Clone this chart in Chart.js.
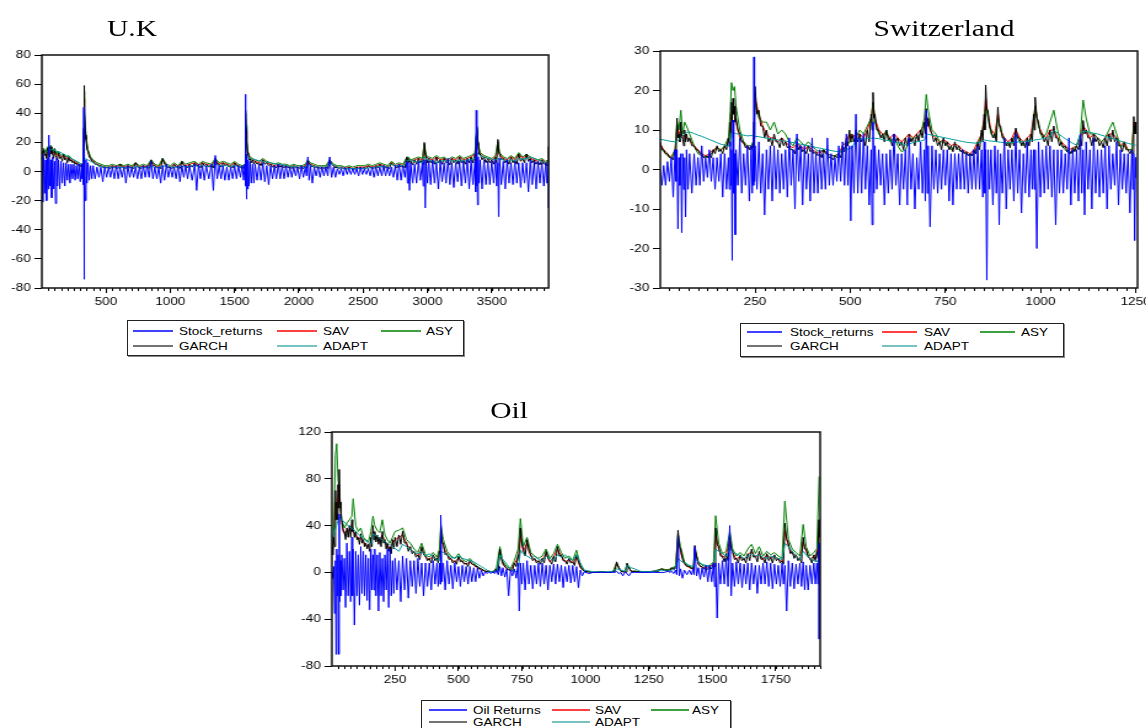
<!DOCTYPE html>
<html>
<head>
<meta charset="utf-8">
<title>Volatility models</title>
<script src="https://cdn.jsdelivr.net/npm/chart.js@4.4.1/dist/chart.umd.min.js"></script>
<style>
html, body { margin: 0; padding: 0; background: #fff; overflow: hidden; }
body { width: 1147px; height: 728px; position: relative; font-family: "Liberation Sans", Arial, sans-serif; }
.panel { position: absolute; top: 0; height: 728px; transform-origin: 0 0; }
.panel canvas { position: absolute; left: 0; }
.title { position: absolute; font-family: "Liberation Serif", "Times New Roman", serif; font-size: 24px; line-height: 24px; color: #000; white-space: nowrap; transform: translateX(-50%) scaleX(1.23); }
.legend { position: absolute; overflow: visible; }
</style>
</head>
<body>
<script>
/* the original picture is stretched sideways, so text and canvases are too */
const STRETCH = 1.23;

const BLUE = "#0000ff", RED = "#ff0000", GREEN = "#008000", BLACK = "#000000", TEAL = "#009999";

/* ================= U.K ================= */
// returns are read as the top and bottom of the dense band at each day
const ukDays = [
    1, 15, 30, 45, 55, 70, 85, 100, 115, 130,
    150, 170, 190, 210, 230, 250, 270, 290, 310, 322,
    327, 330, 335, 345, 360, 380, 400, 430, 460, 490,
    520, 550, 580, 610, 640, 670, 700, 730, 760, 790,
    820, 850, 880, 910, 940, 970, 1000, 1030, 1060, 1090,
    1120, 1150, 1190, 1220, 1250, 1280, 1320, 1350, 1380, 1410,
    1440, 1470, 1500, 1530, 1560, 1580, 1586, 1590, 1595, 1605,
    1620, 1640, 1660, 1690, 1720, 1750, 1780, 1810, 1840, 1870,
    1900, 1930, 1960, 1990, 2020, 2050, 2070, 2090, 2120, 2150,
    2180, 2210, 2240, 2270, 2300, 2330, 2360, 2390, 2420, 2450,
    2480, 2510, 2540, 2570, 2600, 2630, 2660, 2690, 2720, 2750,
    2780, 2810, 2840, 2850, 2870, 2900, 2930, 2960, 2975, 2990,
    3010, 3040, 3070, 3100, 3130, 3160, 3190, 3220, 3250, 3280,
    3310, 3340, 3370, 3380, 3386, 3395, 3410, 3440, 3470, 3500,
    3530, 3548, 3560, 3590, 3620, 3650, 3680, 3710, 3740, 3770,
    3800, 3830, 3860, 3890, 3920, 3935, 3940
];
const ukRetUp = [
    12, 10, 8, 9, 25, 8, 10, 7, 9, 8,
    7, 6, 6, 5, 5, 5, 4, 5, 5, 4,
    44, 10, 8, 8, 6, 4, 4, 3, 3, 3,
    3, 3, 4, 3, 3, 4, 3, 3, 3, 4,
    4, 7, 3, 3, 4, 5, 3, 3, 4, 4,
    4, 4, 5, 5, 4, 4, 5, 11, 4, 4,
    3, 3, 4, 4, 4, 5, 53, 12, 12, 8,
    7, 5, 5, 5, 6, 4, 4, 4, 5, 4,
    4, 3, 3, 3, 4, 3, 10, 4, 3, 3,
    3, 3, 10, 3, 2, 2, 3, 2, 2, 2,
    3, 2, 2, 3, 3, 3, 4, 3, 3, 4,
    5, 4, 7, 6, 6, 5, 7, 6, 8, 8,
    7, 8, 6, 7, 6, 9, 6, 6, 7, 7,
    8, 8, 7, 42, 10, 10, 8, 8, 7, 7,
    8, 6, 9, 7, 8, 6, 7, 6, 6, 6,
    8, 7, 7, 6, 6, 5, 5
];
const ukRetDown = [
    -21, -15, -20, -12, -10, -18, -12, -22, -10, -12,
    -8, -10, -6, -8, -5, -6, -5, -7, -5, -9,
    -10, -74, -20, -8, -6, -5, -5, -4, -7, -4,
    -4, -5, -5, -4, -8, -4, -4, -5, -5, -4,
    -4, -5, -5, -8, -6, -4, -4, -5, -7, -4,
    -5, -6, -13, -5, -6, -5, -13, -5, -5, -6,
    -6, -5, -5, -4, -6, -5, -10, -19, -12, -10,
    -8, -8, -6, -6, -7, -9, -5, -5, -5, -5,
    -4, -4, -3, -5, -4, -3, -6, -8, -3, -4,
    -3, -3, -4, -4, -2, -3, -2, -2, -2, -3,
    -2, -2, -3, -4, -3, -3, -3, -3, -4, -6,
    -6, -4, -8, -13, -8, -8, -6, -10, -25, -8,
    -9, -8, -12, -7, -8, -9, -11, -7, -10, -8,
    -12, -9, -14, -10, -23, -8, -12, -9, -9, -8,
    -10, -31, -9, -12, -8, -9, -8, -11, -8, -14,
    -9, -12, -8, -10, -8, -9, -25
];
const ukSav = [
    13, 14, 12, 15, 13, 16, 12, 14, 11, 12,
    10, 11, 9, 10, 8, 7, 6, 5, 4, 5,
    25, 50, 38, 22, 14, 9, 7, 5, 4, 3,
    3, 4, 3, 5, 3, 4, 3, 6, 3, 4,
    3, 7, 4, 3, 8, 4, 3, 5, 3, 6,
    4, 5, 6, 4, 6, 5, 4, 8, 5, 6,
    5, 4, 6, 4, 3, 4, 36, 28, 19, 12,
    9, 8, 7, 6, 8, 6, 5, 4, 5, 4,
    4, 3, 4, 3, 3, 4, 7, 5, 4, 3,
    3, 3, 7, 4, 3, 3, 2, 3, 2, 3,
    3, 3, 4, 3, 4, 5, 4, 3, 6, 4,
    5, 4, 9, 9, 7, 8, 9, 8, 18, 10,
    9, 8, 10, 8, 9, 7, 9, 8, 10, 8,
    9, 10, 12, 22, 28, 18, 12, 10, 9, 8,
    10, 20, 12, 9, 8, 10, 8, 12, 9, 11,
    9, 8, 7, 8, 6, 7, 15
];
const ukAsy = [
    15, 16, 13, 17, 14, 18, 13, 16, 12, 14,
    11, 12, 10, 11, 9, 8, 7, 6, 5, 6,
    28, 55, 42, 24, 15, 10, 8, 6, 5, 4,
    4, 5, 4, 5, 4, 5, 4, 6, 4, 5,
    4, 8, 5, 4, 9, 5, 4, 6, 4, 7,
    5, 6, 7, 5, 7, 6, 5, 9, 6, 7,
    6, 5, 7, 5, 4, 5, 40, 32, 22, 13,
    10, 9, 8, 7, 9, 7, 6, 5, 6, 5,
    5, 4, 5, 4, 4, 5, 8, 6, 5, 4,
    4, 4, 8, 5, 4, 4, 3, 4, 3, 4,
    4, 4, 5, 4, 5, 6, 5, 4, 7, 5,
    6, 5, 10, 10, 8, 9, 10, 9, 19, 11,
    10, 9, 11, 9, 10, 8, 10, 9, 11, 9,
    10, 11, 13, 26, 30, 19, 13, 11, 10, 9,
    11, 21, 13, 10, 9, 11, 9, 13, 10, 12,
    10, 9, 8, 9, 7, 8, 16
];
const ukGarchHigh = [
    14, 15, 12, 16, 13, 17, 12, 15, 11, 13,
    10, 12, 9, 10, 8, 7, 6, 5, 4, 5,
    30, 59, 40, 22, 14, 9, 7, 5, 4, 3,
    3, 4, 3, 5, 3, 4, 3, 6, 3, 4,
    3, 8, 4, 3, 9, 4, 3, 5, 3, 7,
    4, 5, 6, 4, 6, 5, 4, 9, 5, 6,
    5, 4, 6, 4, 3, 4, 42, 30, 20, 12,
    9, 8, 7, 6, 8, 6, 5, 4, 5, 4,
    4, 3, 4, 3, 3, 4, 8, 5, 4, 3,
    3, 3, 8, 4, 3, 3, 2, 3, 2, 3,
    3, 3, 4, 3, 4, 5, 4, 3, 6, 4,
    5, 4, 10, 9, 7, 8, 9, 8, 20, 10,
    9, 8, 10, 8, 9, 7, 9, 8, 10, 8,
    9, 10, 12, 24, 31, 18, 12, 10, 9, 8,
    10, 22, 12, 9, 8, 10, 8, 12, 9, 12,
    9, 8, 7, 8, 6, 7, 17
];
const ukGarchLow = [
    10, 11, 9, 12, 10, 12, 9, 11, 8, 9,
    7, 8, 6, 7, 6, 5, 4, 3.5, 3, 3.5,
    20, 40, 25, 15, 10, 7, 5, 3.5, 3, 2.5,
    2, 2.5, 2, 3, 2, 2.5, 2, 3, 2, 2.5,
    2, 4, 2.5, 2, 5, 2.5, 2, 3, 2, 4,
    2.5, 3, 4, 2.5, 4, 3, 2.5, 5, 3, 4,
    3, 2.5, 4, 2.5, 2, 2.5, 25, 20, 13, 8,
    6, 5, 5, 4, 5, 4, 3, 2.5, 3, 2.5,
    2.5, 2, 2.5, 2, 2, 2.5, 5, 3, 2.5, 2,
    2, 2, 5, 2.5, 2, 2, 1.5, 2, 1.5, 2,
    2, 2, 2.5, 2, 2.5, 3, 2.5, 2, 4, 2.5,
    3, 2.5, 6, 6, 4.5, 5, 6, 5, 12, 6,
    6, 5, 6, 5, 6, 4.5, 6, 5, 6, 5,
    6, 6, 7, 15, 20, 12, 8, 6, 6, 5,
    6, 14, 8, 6, 5, 6, 5, 7, 6, 7,
    6, 5, 4.5, 5, 4, 4.5, 10
];
const ukAdapt = [
    11, 12, 13, 14, 14.5, 15, 15, 14.5, 14, 13.5,
    13, 12, 11, 10, 9, 8, 7, 6, 5, 4,
    4, 5, 9, 8.5, 8, 7, 6, 4.5, 3.5, 3,
    3, 3, 2.5, 3, 2.5, 3, 3, 3.5, 3, 2.5,
    3, 3.5, 3, 3, 4, 3.5, 3, 3, 3, 3.5,
    3, 3.5, 4, 3.5, 4, 3.5, 4, 5, 4, 4,
    4, 3.5, 4, 3.5, 3, 3, 4, 6, 10, 9.5,
    9, 8.5, 8, 7.5, 7, 6.5, 6, 5.5, 5, 4.5,
    4, 3.5, 3.5, 3, 3, 3, 5, 4, 3.5, 3,
    3, 3, 6, 4.5, 3, 2.5, 2, 2, 2, 2,
    2, 2, 2.5, 2.5, 3, 3.5, 3.5, 3, 5, 4,
    4, 4, 7, 8, 7.5, 7, 6.5, 6, 10, 9,
    8, 7, 6, 7, 7.5, 7, 7.5, 7, 8, 7.5,
    8, 8, 9, 10, 13, 12, 11, 10, 9, 8.5,
    8, 9, 8.5, 8, 7.5, 8, 7.5, 9, 8.5, 9,
    10, 9, 8, 7, 6, 5.5, 5
];
const ukTicks = [500, 1000, 1500, 2000, 2500, 3000, 3500];

/* ================= Switzerland ================= */
const chDays = [
    1, 10, 20, 30, 40, 45, 50, 55, 60, 65,
    70, 78, 90, 100, 110, 120, 130, 140, 150, 160,
    170, 180, 185, 188, 192, 196, 200, 210, 220, 230,
    240, 245, 247, 250, 260, 270, 280, 290, 300, 310,
    320, 330, 340, 350, 360, 370, 380, 390, 400, 410,
    420, 430, 440, 450, 460, 470, 480, 490, 498, 505,
    515, 525, 535, 545, 555, 560, 565, 575, 585, 595,
    605, 615, 625, 635, 645, 655, 665, 675, 685, 695,
    700, 705, 715, 725, 735, 745, 755, 765, 775, 785,
    795, 805, 815, 825, 835, 845, 852, 856, 862, 870,
    880, 888, 895, 905, 915, 925, 935, 945, 955, 965,
    975, 982, 986, 995, 1005, 1015, 1025, 1035, 1045, 1055,
    1065, 1075, 1085, 1095, 1105, 1112, 1120, 1130, 1140, 1150,
    1160, 1170, 1180, 1190, 1200, 1210, 1220, 1230, 1240, 1245,
    1250
];
const chRetUp = [
    0, 1, 2, 3, 5, 5, 3, 4, 4, 3,
    5, 4, 4, 3, 6, 3, 5, 3, 3, 4,
    4, 3, 7, 5, 12.5, 4, 5, 8, 4, 6,
    6, 5, 28.5, 6, 7, 4, 5, 6, 6, 5,
    4, 5, 8, 5, 9, 6, 6, 4, 8, 4,
    5, 4, 8, 4, 3, 6, 7, 9, 6, 6,
    14, 8, 9, 6, 5, 12, 6, 5, 4, 4,
    5, 9, 4, 4, 5, 8, 4, 3, 7, 5,
    15, 6, 6, 5, 4, 5, 5, 4, 4, 4,
    5, 4, 4, 5, 6, 5, 7, 5, 5, 5,
    6, 5, 4, 8, 5, 5, 9, 5, 4, 7,
    5, 5, 5, 7, 5, 6, 6, 5, 5, 5,
    4, 8, 5, 5, 9, 5, 7, 5, 8, 5,
    5, 6, 6, 4, 7, 5, 4, 4, 5, 4,
    3
];
const chRetDown = [
    -4, -4, -3, -7, -3, -15, -4, -16, -5, -12,
    -5, -6, -4, -4, -3, -2, -3, -5, -3, -7,
    -5, -5, -4, -23, -6, -16.5, -4, -6, -4, -8,
    -6, -4, -3, -5, -6, -11.5, -5, -8, -5, -6,
    -5, -7, -4, -10, -3, -9, -5, -8, -6, -6,
    -5, -5, -4, -4, -3, -3, -4, -4, -13, -6,
    -6, -6, -5, -9, -14, -6, -5, -4, -9, -6,
    -5, -4, -9, -5, -9, -5, -10, -5, -6, -8,
    -6, -14.5, -5, -6, -5, -4, -8, -9, -5, -5,
    -5, -6, -5, -5, -5, -7, -6, -28, -5, -9,
    -6, -14, -6, -10, -5, -8, -6, -11, -6, -7,
    -5, -5, -20, -7, -6, -5, -7, -14, -6, -6,
    -5, -9, -6, -8, -6, -11.5, -5, -10, -6, -7,
    -6, -10, -5, -4, -9, -5, -6, -11, -5, -18,
    -2
];
const chSav = [
    6.5, 5, 4, 3, 5, 11, 9, 10, 8, 9,
    8, 7.5, 6, 5, 4, 3.5, 4, 5, 5.5, 5,
    5.5, 7, 11, 14, 15, 14, 12, 8, 6.5, 5.5,
    5.5, 6, 10, 18, 14, 11, 9, 8, 8, 7,
    8, 7, 6, 5.5, 6.5, 6, 5, 6, 5, 4.5,
    4, 5, 4, 3.5, 3.5, 4, 6, 7, 9, 8,
    9, 9, 8, 10, 13, 17, 13, 10, 9, 9,
    8, 9, 8, 7, 8, 9, 8, 9, 10, 11,
    14, 12, 9, 8, 7, 7.5, 7, 6, 6.5, 6,
    5, 4.5, 4, 5, 7, 9, 13, 18, 14, 10,
    9, 14, 10, 8, 7, 8, 10, 8, 7, 8,
    9, 13, 16, 11, 9, 8, 10, 10, 8, 7,
    6, 5, 5.5, 6, 8, 11, 10, 8, 9, 8,
    7, 8, 9, 9, 8, 6, 7, 5, 5, 12,
    11
];
const chAsy = [
    6, 4.5, 3.5, 3, 5, 12, 10, 15, 9, 12,
    11, 9, 6, 4, 3.5, 3, 3.5, 4.5, 5.5, 5,
    6, 8, 15, 22, 20, 21, 16, 10, 7, 6,
    6, 7, 10, 17, 13, 12, 12, 10, 12, 9,
    10, 9, 7, 6, 8, 7, 6, 7, 6, 5,
    4.5, 5, 4, 3.5, 3.5, 4, 5, 6, 7, 7,
    8, 10, 9, 11, 13, 17, 12, 9, 8, 10,
    7, 8, 6, 4.5, 5, 7, 8, 8, 9, 13,
    19, 15, 10, 9, 7, 7, 6, 5, 6, 5,
    4.5, 4, 3.5, 4, 6, 9, 12, 16, 13, 9,
    8, 13, 10, 7, 6, 7, 9, 7, 6, 7,
    8, 12, 16, 11, 8, 9, 12, 15, 10, 6,
    5, 4, 4.5, 6, 9, 17.6, 13, 9, 9, 8,
    7, 8, 10, 12, 9, 6, 6, 5, 5, 11,
    10
];
const chGarchHigh = [
    7, 5, 4, 3, 5, 13, 9, 12, 8, 10,
    9, 8, 6, 5, 4, 3.5, 4, 5, 6, 5,
    6, 8, 12, 17, 18, 16, 13, 9, 7, 6,
    6, 7, 12, 21, 15, 11, 10, 8, 9, 7,
    8, 7, 6, 5, 7, 6, 5, 6, 5, 4.5,
    4, 5, 4, 3, 3.5, 4, 6, 8, 10, 9,
    10, 9, 8, 10, 14, 19.5, 14, 10, 9, 10,
    8, 9, 8, 7, 8, 9, 8, 9, 10, 12,
    15.4, 13, 9, 8, 7, 8, 7, 6, 7, 6,
    5, 4.5, 4, 5, 7, 10, 14, 21.4, 15, 10,
    9, 15.8, 11, 8, 7, 8, 10.5, 8, 7, 8,
    9, 14, 18.3, 12, 9, 8, 10, 11, 8, 7,
    6, 5, 5.5, 6, 8, 12.4, 10, 8, 9, 8,
    7, 8, 9, 10, 8, 6, 7, 5, 5, 13.4,
    12
];
const chGarchLow = [
    5, 4, 3, 2.5, 4, 8, 7, 8, 6, 7,
    7, 6, 5, 4, 3, 3, 3, 4, 4.5, 4,
    5, 6, 8, 12, 14, 12, 10, 7, 5.5, 5,
    5, 5.5, 8, 14, 11, 8, 7, 6, 7, 5.5,
    6, 5.5, 5, 4, 5, 4.5, 4, 4.5, 4, 3.5,
    3, 4, 3, 2.5, 3, 3, 4.5, 6, 7, 7,
    7, 7, 6, 7, 10, 13, 10, 8, 7, 7.5,
    6, 7, 6, 5, 6, 7, 6, 7, 8, 9,
    11, 10, 7, 6, 5, 6, 5, 4.5, 5, 4.5,
    4, 3.5, 3.5, 4, 5, 7, 10, 15, 11, 8,
    7, 11, 8, 6, 5.5, 6, 8, 6, 5.5, 6,
    7, 10, 13, 9, 7, 6, 7, 8, 6, 5.5,
    4.5, 4, 4.5, 5, 6, 9, 8, 6, 7, 6,
    5.5, 6, 7, 7, 6, 4.5, 5, 4, 4, 9,
    9
];
const chAdapt = [
    7.6, 7.5, 7.3, 7.1, 7, 7.2, 7.6, 8, 8.5, 9,
    9.4, 9.5, 9.1, 8.7, 8.4, 8.0, 7.6, 7.2, 6.8, 6.4,
    6.2, 5.8, 7, 9.4, 9.3, 9.2, 9.1, 8.9, 8.7, 8.5,
    8.6, 8.5, 8.5, 8.4, 8.3, 8.1, 7.9, 7.8, 7.6, 7.5,
    7.3, 7.2, 7.0, 6.8, 6.6, 6.4, 6.2, 6.0, 5.8, 5.6,
    5.4, 5.2, 5.0, 4.8, 4.6, 4.6, 4.8, 5.0, 5.3, 5.5,
    7.5, 7.6, 7.7, 7.8, 7.9, 8.0, 7.9, 7.8, 7.6, 7.4,
    7.2, 7.0, 6.8, 6.5, 6.3, 6.5, 6.8, 7.0, 7.2, 7.5,
    9.0, 8.9, 8.7, 8.5, 8.3, 8.1, 7.9, 7.7, 7.5, 7.3,
    7.1, 6.9, 6.8, 6.7, 6.7, 7.0, 7.5, 7.4, 7.3, 7.2,
    7.1, 7.0, 6.9, 6.8, 6.8, 6.8, 6.9, 7.0, 7.1, 7.2,
    7.3, 7.4, 7.5, 7.6, 7.8, 8.0, 8.5, 9.9, 9.2, 8.5,
    7.8, 7.2, 6.6, 6.2, 9.0, 9.7, 9.6, 9.4, 9.2, 9.0,
    8.7, 8.4, 8.1, 7.8, 7.5, 7.2, 6.9, 6.6, 6.4, 6.2,
    6.2
];
const chTicks = [250, 500, 750, 1000, 1250];

/* ================= Oil ================= */
const oilDays = [
    1, 8, 15, 20, 25, 30, 35, 40, 50, 60,
    70, 80, 85, 95, 105, 115, 125, 135, 145, 155,
    163, 170, 180, 190, 200, 210, 220, 230, 240, 250,
    265, 280, 295, 310, 325, 340, 355, 370, 385, 400,
    415, 425, 430, 440, 455, 470, 485, 500, 515, 530,
    545, 560, 575, 590, 605, 620, 635, 650, 663, 675,
    690, 705, 720, 735, 744, 755, 770, 785, 800, 815,
    830, 845, 860, 875, 890, 905, 920, 935, 950, 965,
    980, 995, 1030, 1060, 1090, 1110, 1123, 1140, 1155, 1164,
    1180, 1195, 1215, 1240, 1270, 1300, 1325, 1340, 1355, 1365,
    1375, 1390, 1410, 1425, 1431, 1445, 1460, 1475, 1490, 1505,
    1513, 1525, 1540, 1555, 1569, 1580, 1595, 1610, 1625, 1640,
    1655, 1670, 1685, 1700, 1715, 1730, 1745, 1760, 1775, 1786,
    1800, 1815, 1830, 1845, 1858, 1870, 1885, 1900, 1912, 1921
];
const oilRetUp = [
    0, 5, 10, 20, 15, 50, 10, 15, 12, 25,
    18, 30, 20, 18, 15, 22, 18, 15, 12, 20,
    15, 20, 15, 17, 12, 15, 20, 20, 10, 12,
    10, 14, 12, 10, 10, 12, 8, 8, 8, 10,
    8, 8, 49, 8, 10, 6, 8, 5, 6, 5,
    5, 4, 4, 2, 0.5, 0.5, 0.5, 2, 5, 4,
    3, 2, 3, 8, 8, 8, 10, 6, 6, 8,
    8, 6, 6, 7, 7, 6, 5, 6, 6, 5,
    2, 0.5, 0, 0, 0, 0, 1, 0, 0, 0,
    0, 0, 0, 0, 0, 0, 1, 1, 2, 30,
    3, 2, 2, 3, 22, 4, 4, 6, 6, 8,
    8, 8, 10, 12, 40, 8, 9, 8, 7, 8,
    8, 6, 6, 8, 9, 8, 7, 6, 8, 6,
    10, 8, 7, 8, 9, 6, 6, 8, 8, 25
];
const oilRetDown = [
    -5, -35, -70, -20, -70, -25, -20, -15, -30, -20,
    -25, -20, -45, -20, -28, -18, -20, -24, -32, -15,
    -15, -20, -33, -20, -25, -15, -30, -20, -18, -15,
    -25, -15, -22, -12, -18, -12, -20, -12, -15, -10,
    -12, -10, -8, -15, -10, -14, -8, -12, -8, -10,
    -8, -8, -5, -3, -1, -1, -1, -2, -3, -4,
    -20, -3, -5, -33, -10, -15, -10, -14, -10, -12,
    -10, -15, -8, -10, -8, -13, -8, -9, -8, -13,
    -3, -1, 0, 0, 0, 0, -1, -3, 0, -3,
    0, 0, 0, 0, 0, 0, 0, -1, -2, -3,
    -5, -2, -2, -2, -3, -6, -4, -8, -8, -12,
    -39, -10, -10, -12, -20, -12, -10, -13, -10, -15,
    -10, -18, -10, -10, -12, -14, -10, -12, -10, -33,
    -12, -14, -10, -12, -15, -15, -10, -10, -10, -57
];
const oilSav = [
    20, 28, 60, 55, 65, 75, 55, 42, 33, 36,
    36, 40, 35, 32, 28, 30, 26, 23, 22, 27,
    35, 32, 30, 28, 32, 26, 23, 20, 25, 28,
    30, 32, 24, 20, 17, 14, 20, 13, 11, 14,
    11, 16, 35, 22, 15, 11, 9, 12, 9, 7,
    9, 6, 4, 2, 1, 1, 0.5, 2, 17, 7,
    3, 2, 7, 13, 32, 18, 25, 14, 11, 9,
    11, 16, 9, 13, 20, 14, 9, 11, 8, 13,
    4, 1, 0, 0.5, 0, 1, 7, 1, 0.5, 6,
    1, 1, 0.5, 0.5, 1, 3, 2, 3, 4, 32,
    17, 7, 4, 3, 20, 7, 4, 4, 5, 7,
    32, 20, 13, 15, 28, 17, 11, 14, 11, 15,
    18, 13, 16, 11, 15, 12, 14, 11, 9, 36,
    22, 16, 14, 11, 26, 18, 11, 14, 16, 38
];
const oilAsy = [
    15, 35, 100, 110, 80, 70, 55, 45, 38, 42,
    45, 48, 63, 40, 35, 38, 30, 28, 26, 35,
    48, 40, 36, 34, 45, 32, 28, 25, 30, 35,
    36, 38, 28, 25, 20, 17, 25, 15, 13, 17,
    13, 20, 40, 28, 18, 14, 12, 16, 11, 9,
    12, 8, 5, 3, 1, 1, 0.5, 4, 22, 9,
    5, 3, 10, 20, 46, 22, 30, 17, 14, 12,
    14, 20, 12, 16, 24, 17, 12, 14, 10, 19,
    6, 1, 0, 0.5, 0, 1, 8, 1, 0.5, 7,
    1, 1, 0.5, 0.5, 1, 3, 2, 4, 5, 33,
    22, 9, 5, 4, 20, 9, 6, 5, 6, 9,
    48.5, 25, 16, 18, 35, 20, 14, 17, 14, 20,
    24, 16, 22, 14, 18, 15, 17, 14, 12, 61,
    28, 20, 17, 14, 41, 22, 14, 17, 20, 82
];
const oilGarchHigh = [
    22, 30, 70, 60, 75, 88, 60, 45, 35, 38,
    40, 45, 38, 35, 30, 33, 28, 25, 24, 30,
    40, 35, 32, 30, 35, 28, 25, 22, 28, 30,
    32, 35, 26, 22, 18, 15, 22, 14, 12, 15,
    12, 18, 42, 25, 16, 12, 10, 14, 10, 8,
    10, 7, 5, 3, 1, 1, 0.5, 3, 20, 8,
    4, 2, 8, 15, 38, 20, 28, 15, 12, 10,
    12, 18, 10, 14, 22, 15, 10, 12, 9, 15,
    5, 1, 0, 0.5, 0, 1, 9, 1, 0.5, 8,
    1, 1, 0.5, 0.5, 1, 3, 2, 4, 5, 36,
    20, 8, 5, 4, 23, 8, 5, 4, 5, 8,
    38, 22, 14, 16, 32, 18, 12, 15, 12, 16,
    20, 14, 18, 12, 16, 13, 15, 12, 10, 42,
    25, 18, 15, 12, 30, 20, 12, 15, 18, 45
];
const oilGarchLow = [
    15, 22, 45, 45, 55, 60, 45, 35, 28, 30,
    30, 35, 30, 28, 24, 25, 22, 20, 18, 22,
    28, 26, 24, 22, 25, 20, 18, 16, 20, 22,
    24, 25, 18, 16, 13, 11, 15, 10, 8, 10,
    8, 12, 25, 15, 11, 8, 7, 9, 7, 5,
    7, 5, 3, 2, 0.5, 0.5, 0.5, 1, 12, 5,
    2, 1, 5, 10, 25, 14, 18, 10, 8, 7,
    8, 12, 7, 9, 14, 10, 7, 8, 6, 10,
    3, 0.5, 0, 0.2, 0, 0.5, 4, 0.5, 0.2, 4,
    0.5, 0.5, 0.2, 0.2, 0.5, 1.5, 1, 2, 3, 22,
    12, 5, 3, 2.5, 14, 5, 3, 2.5, 3, 5,
    24, 14, 9, 10, 20, 11, 8, 10, 8, 10,
    13, 9, 11, 8, 10, 8, 10, 8, 7, 28,
    16, 12, 10, 8, 20, 13, 8, 10, 12, 30
];
const oilAdapt = [
    28, 32, 37, 41, 44, 47, 46, 45, 43, 41,
    39, 38, 37, 35, 33, 31, 29, 27, 25, 23.5,
    33, 32, 31, 29.5, 28, 26.5, 25, 23.5, 22, 20.5,
    18, 24, 22, 20, 17, 16, 18, 14, 16, 13,
    11, 10, 18, 17, 15, 13, 12, 14, 12, 11,
    10, 9, 7, 5, 3, 1, 0.5, 0.5, 15, 11,
    7, 3, 1, 0.5, 19, 16, 14, 12, 14, 11,
    10, 14, 12, 10, 15, 13, 15, 12, 10, 15,
    8, 2, 0.5, 0.5, 0.5, 1, 3, 2, 1, 6,
    4, 3, 1, 0.5, 1, 2, 1, 2, 3, 12,
    10, 8, 6, 5, 12, 9, 7, 6, 5, 4,
    20, 18, 16, 14, 20, 18, 16, 14, 12, 14,
    16, 14, 15, 13, 12, 14, 13, 12, 11, 25,
    22, 18, 14, 11, 18, 15, 12, 10, 9, 12
];
const oilTicks = [250, 500, 750, 1000, 1250, 1500, 1750];

/* ================= PANELS ================= */
const panels = [
    {
        title: "U.K", titleX: 132, titleY: 16,
        left: 0, top: 45, width: 456, height: 265, yWidth: 34, padRight: 10,
        xMin: 1, xMax: 3942, minorStep: 50, xTicks: ukTicks,
        yMin: -80, yMax: 80, yStep: 20,
        names: ["Stock_returns", "SAV", "ASY", "GARCH", "ADAPT"],
        days: ukDays, retUp: ukRetUp, retDown: ukRetDown, sav: ukSav, asy: ukAsy,
        garchHigh: ukGarchHigh, garchLow: ukGarchLow, adapt: ukAdapt,
        legend: { left: 127, top: 320, width: 337, height: 36, rows: [11, 26], lineX: [6, 150, 254], lineW: 40, textX: [52, 196, 299] }
    },
    {
        title: "Switzerland", titleX: 944, titleY: 16,
        left: 600, top: 41, width: 444, height: 269, yWidth: 49, padRight: 7,
        xMin: 1, xMax: 1255, minorStep: 25, xTicks: chTicks,
        yMin: -30, yMax: 30, yStep: 10,
        names: ["Stock_returns", "SAV", "ASY", "GARCH", "ADAPT"],
        days: chDays, retUp: chRetUp, retDown: chRetDown, sav: chSav, asy: chAsy,
        garchHigh: chGarchHigh, garchLow: chGarchLow, adapt: chAdapt,
        legend: { left: 740, top: 323, width: 324, height: 34, rows: [9, 23], lineX: [7, 142, 240], lineW: 35, textX: [50, 184, 281] }
    },
    {
        title: "Oil", titleX: 509, titleY: 398,
        left: 290, top: 422, width: 440, height: 266, yWidth: 34, padRight: 9,
        xMin: 1, xMax: 1925, minorStep: 25, xTicks: oilTicks,
        yMin: -80, yMax: 120, yStep: 40,
        names: ["Oil Returns", "SAV", "ASY", "GARCH", "ADAPT"],
        days: oilDays, retUp: oilRetUp, retDown: oilRetDown, sav: oilSav, asy: oilAsy,
        garchHigh: oilGarchHigh, garchLow: oilGarchLow, adapt: oilAdapt,
        legend: { left: 421, top: 700, width: 310, height: 31, rows: [10, 22], lineX: [8, 131, 230], lineW: 38, textX: [52, 174, 271] }
    }
];

const TICK_FONT = { family: "'Liberation Sans', Arial, sans-serif", size: 11 };

// box round the plot plus the small unlabelled ticks under the x axis
const framePlugin = {
    id: "frame",
    afterDraw(chart, args, opts) {
        const { ctx, chartArea: a, scales: { x } } = chart;
        ctx.save();
        ctx.strokeStyle = "#000";
        ctx.lineWidth = 1;
        ctx.beginPath();
        for (let v = opts.step; v <= x.max; v += opts.step) {
            const px = Math.round(x.getPixelForValue(v)) + 0.5;
            ctx.moveTo(px, a.bottom);
            ctx.lineTo(px, a.bottom + 3);
        }
        ctx.stroke();
        ctx.lineWidth = 1.5;
        ctx.strokeStyle = "#111";
        ctx.strokeRect(a.left, a.top, a.right - a.left, a.bottom - a.top);
        ctx.restore();
    }
};

function series(days, vals, color) {
    return {
        data: days.map((d, i) => ({ x: d, y: vals[i] })),
        borderColor: color, borderWidth: 1, pointRadius: 0, fill: false, tension: 0
    };
}

// high reading at the day, low reading half way to the next day
function band(days, high, low, color) {
    const data = [];
    days.forEach((d, i) => {
        const next = i + 1 < days.length ? days[i + 1] : d;
        data.push({ x: d, y: high[i] });
        data.push({ x: (d + next) / 2, y: low[i] });
    });
    return { data, borderColor: color, borderWidth: 1, pointRadius: 0, fill: false, tension: 0 };
}

function buildPanel(p) {
    const wrap = document.createElement("div");
    wrap.className = "panel";
    wrap.style.left = p.left + "px";
    wrap.style.width = p.width + "px";
    wrap.style.transform = `scaleX(${STRETCH})`;
    const canvas = document.createElement("canvas");
    canvas.width = p.width;
    canvas.height = p.height;
    canvas.style.top = p.top + "px";
    wrap.appendChild(canvas);
    document.body.appendChild(wrap);

    new Chart(canvas, {
        type: "line",
        data: {
            datasets: [
                band(p.days, p.retUp, p.retDown, BLUE),
                series(p.days, p.adapt, TEAL),
                band(p.days, p.garchHigh, p.garchLow, BLACK),
                series(p.days, p.asy, GREEN),
                series(p.days, p.sav, RED)
            ]
        },
        options: {
            responsive: false,
            animation: false,
            devicePixelRatio: 1,
            parsing: false,
            layout: { padding: { top: 10, right: p.padRight, left: 0, bottom: 0 } },
            plugins: {
                legend: { display: false },
                tooltip: { enabled: false },
                frame: { step: p.minorStep }
            },
            scales: {
                x: {
                    type: "linear",
                    min: p.xMin,
                    max: p.xMax,
                    afterBuildTicks: s => { s.ticks = p.xTicks.map(v => ({ value: v })); },
                    afterFit: s => { s.height = 22; s.paddingLeft = 0; s.paddingRight = 0; },
                    grid: { drawOnChartArea: false, tickLength: 5, color: "#000" },
                    border: { display: false },
                    ticks: { autoSkip: false, maxRotation: 0, padding: 2, color: "#000", font: TICK_FONT, callback: v => String(v) }
                },
                y: {
                    min: p.yMin,
                    max: p.yMax,
                    afterFit: s => { s.width = p.yWidth; s.paddingTop = 0; s.paddingBottom = 0; },
                    grid: { drawOnChartArea: false, tickLength: 6, color: "#000" },
                    border: { display: false },
                    ticks: { stepSize: p.yStep, padding: 3, color: "#000", font: TICK_FONT }
                }
            }
        },
        plugins: [framePlugin]
    });
}

const SVG_NS = "http://www.w3.org/2000/svg";
function svgEl(tag, attrs) {
    const el = document.createElementNS(SVG_NS, tag);
    Object.entries(attrs).forEach(([k, v]) => el.setAttribute(k, v));
    return el;
}

function buildLegend(p) {
    const L = p.legend;
    const svg = svgEl("svg", { width: L.width + 2, height: L.height + 2, class: "legend" });
    svg.style.left = L.left + "px";
    svg.style.top = L.top + "px";
    svg.appendChild(svgEl("rect", { x: 1.5, y: 1.5, width: L.width - 1, height: L.height - 1, fill: "none", stroke: "#888", "stroke-width": 1 }));
    svg.appendChild(svgEl("rect", { x: 0.5, y: 0.5, width: L.width - 1, height: L.height - 1, fill: "#fff", stroke: "#222", "stroke-width": 1 }));

    const colors = [BLUE, RED, GREEN, "#444", "#4aaeae"];
    p.names.forEach((name, i) => {
        const row = i < 3 ? 0 : 1;
        const col = i < 3 ? i : i - 3;
        const y = L.rows[row];
        // a line straddling two pixel rows keeps its colour in the photo
        svg.appendChild(svgEl("line", {
            x1: L.lineX[col], x2: L.lineX[col] + L.lineW, y1: y, y2: y,
            stroke: colors[i], "stroke-width": 1.5
        }));
        const t = svgEl("text", {
            transform: `translate(${L.textX[col]},${y + 4}) scale(${STRETCH},1)`,
            "font-family": "'Liberation Sans', Arial, sans-serif", "font-size": 11, fill: "#000"
        });
        t.textContent = name;
        svg.appendChild(t);
    });
    document.body.appendChild(svg);
}

function buildTitle(p) {
    const t = document.createElement("div");
    t.className = "title";
    t.textContent = p.title;
    t.style.left = p.titleX + "px";
    t.style.top = p.titleY + "px";
    document.body.appendChild(t);
}

panels.forEach(buildPanel);
panels.forEach(buildTitle);
panels.forEach(buildLegend);
</script>
</body>
</html>
